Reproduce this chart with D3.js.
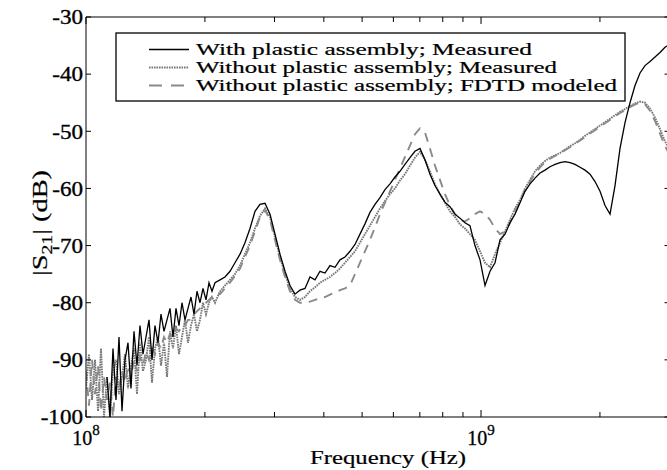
<!DOCTYPE html>
<html><head><meta charset="utf-8">
<script src="https://cdn.jsdelivr.net/npm/d3@7"></script>
<style>body{margin:0;background:#fff;overflow:hidden}</style>
</head><body><svg id="c" width="667" height="470"></svg>
<script>
// ---- data (frequency in MHz, |S21| in dB) ----
const freqLowMHz = [100,101.76,103.56,105.39,107.25,109.13,111.06,113.02,115.01,117.04,
 119.11,121.21,123.35,125.52,127.74,129.99,132.28,134.62,136.99,139.41,
 141.87,144.37,146.92,149.51,152.15,154.83,157.56,160.34,163.17,166.05,
 168.98,171.96,174.99,178.08,181.22,184.42,187.67,190.98,194.35,197.78,
 201.27,204.82,208.43,212.11];
const freqMainMHz = [218.4,224.8,231.5,238.3,245.4,252.6,260.1,267.8,275.7,283.9,
 292.3,300.9,309.8,319.0,328.4,338.1,348.1,358.4,369.0,379.9,
 391.2,402.7,414.6,426.9,439.5,452.5,465.9,479.7,493.8,508.4,
 523.5,539.0,554.9,571.3,588.2,605.6,623.5,641.9,660.9,680.4,
 700.6,721.3,742.6,764.6,787.2,810.4,834.4,859.1,884.5,910.6,
 937.5,965.3,994.2,1023.6,1053.8,1085.0,1117.1,1150.1,1184.1,1219.1,
 1255.1,1292.3,1330.5,1369.8,1410.3,1452.0,1494.9,1539.1,1584.9,1631.8,
 1680.0,1729.7,1780.8,1833.5,1887.7,1943.5,2001.0,2060.1,2121.0,2183.7,
 2248.3,2314.8,2383.2,2453.7,2526.2,2600.9,2677.8,2757.0,2838.5,2922.5,3000];

const withPlasticLow = [null,null,null,null,null,null,null,
 -93,-100,-88,-97,-86,-99,-90,-87,-95,-85,
 -91,-84,-89,-86,-83,-90,-84,-87,-82,-85,
 -83,-81,-86,-81,-84,-80,-83,-81,-79,-82,
 -78,-80,-77.5,-79.5,-76.5,-78,-76.5];
const withPlasticMain = [-76,-75.5,-74.5,-73,-71.5,-69.5,-67,-64,-62.8,-62.6,
 -64.5,-68,-71.5,-74.5,-77,-78.5,-77.8,-77.5,-75.5,-76,
 -74.5,-74.8,-73.5,-73.8,-72.5,-72,-71,-69.8,-68,-66.2,
 -64.2,-62.8,-61.6,-60.2,-59.2,-58,-57,-55.8,-54.6,-53.5,
 -53,-55,-57.5,-59.5,-61,-62.4,-63.2,-64.5,-65.2,-66,
 -66.5,-70,-72.5,-77,-74.5,-73,-69,-68,-66,-64.5,
 -62.5,-60.5,-59.2,-58.2,-57.3,-56.8,-56.2,-55.8,-55.5,-55.3,
 -55.5,-55.8,-56.3,-56.8,-57.5,-58.8,-60.5,-63,-64.5,-59.5,
 -53,-48.5,-45,-42,-39.8,-38.5,-37.8,-37,-36.2,-35.3,-34.8];

const withoutMeasLow = [-95,-89,-97,-90,-99,-88,-100,-93,-100,-92,
 -90,-96,-93,-89,-95,-91,-88,-96,-87,-92,
 -90,-86,-94,-88,-86,-91,-87,-93,-85,-88,
 -84,-89,-86,-83,-87,-84,-82,-85,-83,-80,
 -82,-80,-79,-80];
const withoutMeasMain = [-78,-77,-76,-75,-73.5,-71.5,-69.5,-67,-64.8,-63.5,
 -65,-68.5,-72,-75,-77.5,-79,-79.5,-79,-78,-77.3,
 -76.5,-76,-75.5,-74.8,-74,-73,-72,-71,-69.5,-68,
 -66.5,-65,-63.5,-62.2,-61,-60,-58.6,-57.5,-56,-54.6,
 -53.6,-55,-57,-59.3,-61,-62.5,-64,-65,-66.3,-67,
 -68,-69,-71,-73,-73.8,-71.5,-69.5,-67.5,-65.5,-63.5,
 -62,-60,-58.5,-57,-56,-55.2,-54.6,-54.2,-53.8,-53.2,
 -52.6,-52.1,-51.5,-50.8,-50.2,-49.6,-49,-48.4,-47.8,-47.2,
 -46.6,-46.1,-45.6,-45.1,-44.8,-45,-46,-47.6,-49.6,-51.8,-53];

const fdtdLow = [-92,-98,-90,-96,-91,-99,-93,-97,-94,-100,
 -93,-95,-92,-94,-91,-93,-90,-92,-89.5,-91,
 -88.5,-90,-88,-89,-87,-88,-86,-87,-85.5,-86,
 -84.5,-85,-84,-84,-83,-83,-82,-81.5,-81,-80.5,
 -80,-79.5,-79,-78.5];
const fdtdMain = [-78.5,-77.5,-76.5,-75.3,-74,-72,-70,-67.5,-65,-63.8,
 -65.5,-69,-72.5,-75.5,-78,-79.5,-80,-80,-79.8,-79.5,
 -79.2,-79,-78.6,-78.2,-77.8,-77.5,-77,-75,-73,-71,
 -69,-66.8,-64.5,-62.5,-60.5,-58.5,-56.5,-54.5,-52.5,-50.5,
 -49.5,-50.2,-53,-56,-58.5,-61,-63,-64.5,-65.5,-65.8,
 -65.2,-64.5,-64,-64.5,-65.5,-67,-68,-67.5,-66,-64,
 -62.3,-60.3,-58.8,-57.4,-56.3,-55.4,-54.8,-54.3,-53.9,-53.3,
 -52.8,-52.2,-51.6,-51,-50.4,-49.8,-49.2,-48.6,-48,-47.4,
 -46.8,-46.3,-45.8,-45.3,-45,-45.3,-46.4,-48.2,-50.4,-52.6,-54];

const yTickValues = [-30,-40,-50,-60,-70,-80,-90,-100];
const xMajorTicks = [1e8, 1e9];
const xMajorExponents = ["8", "9"];
const xMinorTicks = [2e8,3e8,4e8,5e8,6e8,7e8,8e8,9e8,2e9];
const legendLabels = ["With plastic assembly;  Measured",
                      "Without plastic assembly; Measured",
                      "Without plastic assembly; FDTD modeled"];

// ---- layout ----
const L = 86, R = 669.5, T = 17, B = 417;
const FONT = "'Liberation Serif','Times New Roman',serif";
const svg = d3.select("#c");
const x = d3.scaleLog().domain([1e8, 3e9]).range([L, R]);
const y = d3.scaleLinear().domain([-100, -30]).range([B, T]);

const freqAll = freqLowMHz.concat(freqMainMHz).map(f => f * 1e6);
const mk = (lo, hi) => lo.concat(hi).map((v, i) => [freqAll[i], v]);
const sWith = mk(withPlasticLow, withPlasticMain);
const sMeas = mk(withoutMeasLow, withoutMeasMain);
const sFdtd = mk(fdtdLow, fdtdMain);

svg.append("clipPath").attr("id", "clip").append("rect")
  .attr("x", L).attr("y", T - 1).attr("width", R - L).attr("height", B - T + 2);

const line = d3.line().defined(d => d[1] != null).x(d => x(d[0])).y(d => y(d[1]));
const g = svg.append("g").attr("clip-path", "url(#clip)");

const measStyle = {stroke: "#767676", w: 1.9, dash: "1.6,0.9"};
const fdtdStyle = {stroke: "#8a8a8a", w: 1.9, dash: "9,7"};
g.append("path").datum(sMeas).attr("d", line).attr("fill", "none")
  .attr("stroke", measStyle.stroke).attr("stroke-width", measStyle.w).attr("stroke-dasharray", measStyle.dash);
g.append("path").datum(sFdtd).attr("d", line).attr("fill", "none")
  .attr("stroke", fdtdStyle.stroke).attr("stroke-width", fdtdStyle.w).attr("stroke-dasharray", fdtdStyle.dash);
g.append("path").datum(sWith).attr("d", line).attr("fill", "none")
  .attr("stroke", "#000").attr("stroke-width", 1.3);

// ---- frame and ticks ----
const ax = svg.append("g").attr("stroke", "#000").attr("stroke-width", 1);
ax.append("line").attr("x1", L).attr("x2", L).attr("y1", T).attr("y2", B);
ax.append("line").attr("x1", R).attr("x2", R).attr("y1", T).attr("y2", B);
ax.append("line").attr("x1", L).attr("x2", R).attr("y1", T).attr("y2", T);
ax.append("line").attr("x1", L).attr("x2", R).attr("y1", B).attr("y2", B);

yTickValues.forEach(v => {
  ax.append("line").attr("x1", L).attr("x2", L + 5).attr("y1", y(v)).attr("y2", y(v));
  ax.append("line").attr("x1", R - 5).attr("x2", R).attr("y1", y(v)).attr("y2", y(v));
});
xMinorTicks.concat(xMajorTicks).forEach(v => {
  const len = xMajorTicks.includes(v) ? 7 : 5;
  ax.append("line").attr("x1", x(v)).attr("x2", x(v)).attr("y1", B).attr("y2", B - len);
  ax.append("line").attr("x1", x(v)).attr("x2", x(v)).attr("y1", T).attr("y2", T + len);
});

// stretch helper (reference text is horizontally widened)
function stretch(sel, factor) {
  const n = sel.node();
  const w = n.getComputedTextLength();
  sel.attr("textLength", w * factor).attr("lengthAdjust", "spacingAndGlyphs");
}

// y tick labels
yTickValues.forEach(v => {
  const t = svg.append("text").attr("x", 83).attr("y", y(v)).attr("dy", "0.35em")
    .attr("text-anchor", "end").attr("font-family", FONT).attr("font-size", 21)
    .attr("fill", "#000").attr("stroke", "#000").attr("stroke-width", 0.35).text(v);
  stretch(t, 1.1);
});

// x tick labels
xMajorTicks.forEach((v, i) => {
  const t = svg.append("text").attr("x", x(v)).attr("y", 445)
    .attr("text-anchor", "middle").attr("font-family", FONT).attr("font-size", 20)
    .attr("fill", "#000").attr("stroke", "#000").attr("stroke-width", 0.3);
  t.append("tspan").text("10");
  t.append("tspan").attr("font-size", 15).attr("dy", -10).text(xMajorExponents[i]);
});

// axis titles
svg.append("text").attr("x", 388).attr("y", 464).attr("text-anchor", "middle")
  .attr("font-family", FONT).attr("font-size", 19).attr("fill", "#000")
  .attr("stroke", "#000").attr("stroke-width", 0.2)
  .attr("textLength", 156).attr("lengthAdjust", "spacingAndGlyphs").text("Frequency (Hz)");

const yl = svg.append("text").attr("text-anchor", "middle")
  .attr("font-family", FONT).attr("font-size", 20).attr("fill", "#000")
  .attr("stroke", "#000").attr("stroke-width", 0.2);
yl.append("tspan").text("|S");
yl.append("tspan").attr("font-size", 14).attr("dy", 5).text("21");
yl.append("tspan").attr("dy", -5).text("| (dB)");
const ylw = yl.node().getBBox().width;
yl.attr("transform", `translate(47,223) rotate(-90) scale(${106 / ylw},1)`);

// ---- legend ----
svg.append("rect").attr("x", 116).attr("y", 33).attr("width", 509).attr("height", 68)
  .attr("fill", "#fff").attr("stroke", "#000").attr("stroke-width", 1.3);
const legY = [49.5, 67.5, 85.5];
const legW = [336, 361, 421];
const legStyles = [
  {stroke: "#000", w: 1.3, dash: null},
  measStyle,
  {stroke: fdtdStyle.stroke, w: fdtdStyle.w, dash: "13,9"}
];
legendLabels.forEach((lab, i) => {
  svg.append("line").attr("x1", 149).attr("x2", 189).attr("y1", legY[i]).attr("y2", legY[i])
    .attr("stroke", legStyles[i].stroke).attr("stroke-width", legStyles[i].w)
    .attr("stroke-dasharray", legStyles[i].dash);
  svg.append("text").attr("x", 196).attr("y", legY[i] + 5.5)
    .attr("font-family", FONT).attr("font-size", 16).attr("fill", "#000")
    .attr("stroke", "#000").attr("stroke-width", 0.2)
    .attr("textLength", legW[i]).attr("lengthAdjust", "spacingAndGlyphs").text(lab);
});
</script></body></html>
